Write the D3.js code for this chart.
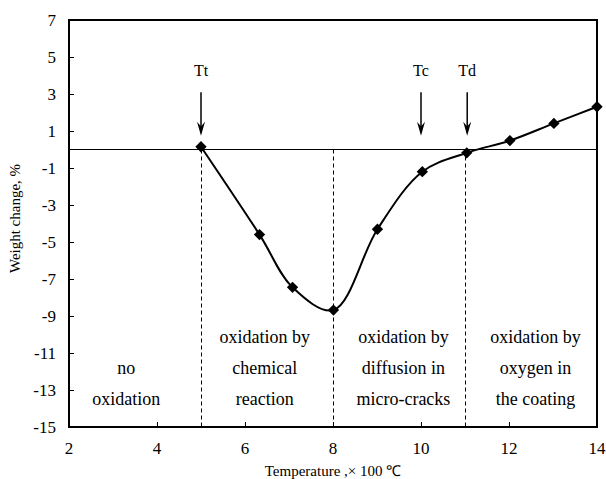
<!DOCTYPE html>
<html>
<head>
<meta charset="utf-8">
<script src="https://cdn.jsdelivr.net/npm/d3@7"></script>
<style>
  body { margin: 0; background: #fff; }
  svg { display: block; font-family: 'Liberation Serif', 'Times New Roman', serif; }
</style>
</head>
<body>
<svg id="chart" width="606" height="479"></svg>
<script>
const temps = [5, 6.33, 7.08, 8.01, 9.01, 10.03, 11.04, 12.02, 13.02, 14];
const weightChange = [0.15, -4.6, -7.45, -8.68, -4.31, -1.2, -0.18, 0.48, 1.41, 2.31];
const xTicks = [2, 4, 6, 8, 10, 12, 14];
const yTicks = [7, 5, 3, 1, -1, -3, -5, -7, -9, -11, -13, -15];
const arrowLabels = ['Tt', 'Tc', 'Td'];
const arrowTemps = [5, 10, 11.05];
const regionBounds = [5, 8, 11];
const regionCenters = [3.3, 6.45, 9.6, 12.6];
const regionLabels = [
  ['', 'no', 'oxidation'],
  ['oxidation by', 'chemical', 'reaction'],
  ['oxidation by', 'diffusion in', 'micro-cracks'],
  ['oxidation by', 'oxygen in', 'the coating']
];

const svg = d3.select('#chart');
const margin = { top: 20, right: 9, bottom: 52, left: 69 };
const width = 606, height = 479;

const x = d3.scaleLinear().domain([2, 14]).range([margin.left, width - margin.right]);
const y = d3.scaleLinear().domain([-15, 7]).range([height - margin.bottom, margin.top]);

const points = temps.map((t, i) => ({ t, w: weightChange[i] }));

// dashed region dividers
svg.append('g')
  .selectAll('line')
  .data(regionBounds)
  .enter()
  .append('line')
  .attr('x1', d => Math.round(x(d)) + 0.5)
  .attr('x2', d => Math.round(x(d)) + 0.5)
  .attr('y1', y(0))
  .attr('y2', y(-15))
  .attr('stroke', '#000')
  .attr('stroke-width', 1)
  .attr('stroke-dasharray', '4,3');

// zero line
svg.append('line')
  .attr('x1', x(2))
  .attr('x2', x(14))
  .attr('y1', y(0))
  .attr('y2', y(0))
  .attr('stroke', '#000')
  .attr('stroke-width', 1);

// axes (ticks pointing inward)
const yAxis = svg.append('g')
  .attr('transform', `translate(${margin.left},0)`)
  .call(d3.axisRight(y).tickValues(yTicks).tickSize(5).tickFormat(''));
yAxis.select('.domain').remove();
svg.append('g')
  .selectAll('text')
  .data(yTicks)
  .enter()
  .append('text')
  .attr('x', margin.left - 13)
  .attr('y', d => y(d))
  .attr('dy', '0.35em')
  .attr('text-anchor', 'end')
  .attr('font-size', 17)
  .text(d => d);

const xAxis = svg.append('g')
  .attr('transform', `translate(0,${height - margin.bottom})`)
  .call(d3.axisTop(x).tickValues(xTicks).tickSize(5).tickFormat(''));
xAxis.select('.domain').remove();
svg.append('g')
  .selectAll('text')
  .data(xTicks)
  .enter()
  .append('text')
  .attr('x', d => x(d))
  .attr('y', y(-15) + 27)
  .attr('text-anchor', 'middle')
  .attr('font-size', 17)
  .text(d => d);

// frame
svg.append('rect')
  .attr('x', x(2))
  .attr('y', y(7))
  .attr('width', x(14) - x(2))
  .attr('height', y(-15) - y(7))
  .attr('fill', 'none')
  .attr('stroke', '#000')
  .attr('stroke-width', 2);

// axis titles
svg.append('text')
  .attr('transform', `translate(20,${(y(7) + y(-15)) / 2 - 5}) rotate(-90)`)
  .attr('text-anchor', 'middle')
  .attr('font-size', 15)
  .text('Weight change, %');
svg.append('text')
  .attr('x', (x(2) + x(14)) / 2)
  .attr('y', height - 3)
  .attr('text-anchor', 'middle')
  .attr('font-size', 15)
  .text('Temperature ,\u00d7 100 \u2103');

// curve
svg.append('path')
  .datum(points)
  .attr('fill', 'none')
  .attr('stroke', '#000')
  .attr('stroke-width', 2)
  .attr('d', d3.line().x(d => x(d.t)).y(d => y(d.w)).curve(d3.curveCatmullRom.alpha(0.5)));

// diamond markers
svg.append('g')
  .selectAll('path')
  .data(points)
  .enter()
  .append('path')
  .attr('transform', d => `translate(${x(d.t)},${y(d.w)}) rotate(45)`)
  .attr('d', d3.symbol().type(d3.symbolSquare).size(64))
  .attr('fill', '#000');

// arrows with labels
const arrows = svg.append('g')
  .selectAll('g')
  .data(arrowTemps)
  .enter()
  .append('g');
arrows.append('line')
  .attr('x1', d => x(d))
  .attr('x2', d => x(d))
  .attr('y1', y(3.1))
  .attr('y2', y(0.9))
  .attr('stroke', '#000')
  .attr('stroke-width', 1.5);
arrows.append('path')
  .attr('d', d => `M${x(d) - 4},${y(1.5)} L${x(d)},${y(0.75)} L${x(d) + 4},${y(1.5)} L${x(d)},${y(1.25)} Z`)
  .attr('fill', '#000');
arrows.append('text')
  .attr('x', d => x(d))
  .attr('y', y(4.25))
  .attr('dy', '0.35em')
  .attr('text-anchor', 'middle')
  .attr('font-size', 16)
  .text((d, i) => arrowLabels[i]);

// region descriptions
const lineYs = [-10.14, -11.81, -13.49];
regionLabels.forEach((lines, i) => {
  svg.append('g')
    .selectAll('text')
    .data(lines)
    .enter()
    .append('text')
    .attr('x', x(regionCenters[i]))
    .attr('y', (d, j) => y(lineYs[j]))
    .attr('dy', '0.35em')
    .attr('text-anchor', 'middle')
    .attr('font-size', 18)
    .text(d => d);
});
</script>
</body>
</html>
